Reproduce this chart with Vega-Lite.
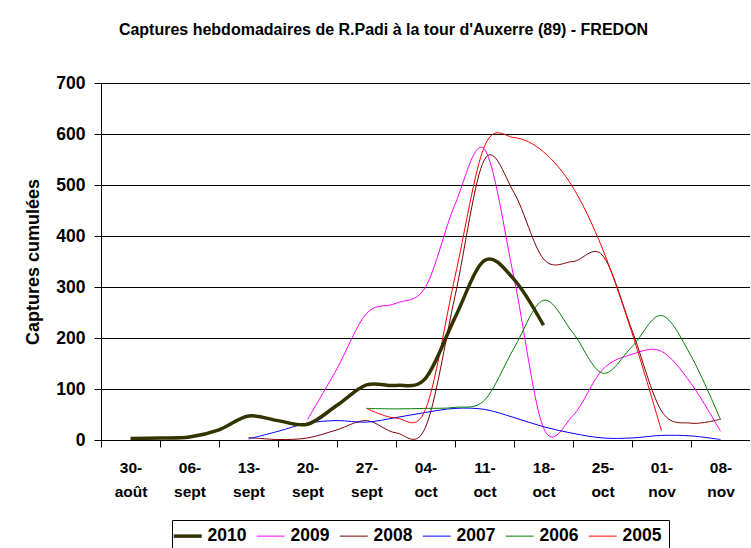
{
  "$schema": "https://vega.github.io/schema/vega-lite/v6.json",
  "autosize": {"type": "none"},
  "padding": {"left": 101, "top": 83, "right": 0, "bottom": 108},
  "width": 649,
  "height": 357,
  "background": "white",
  "title": {
    "text": "Captures hebdomadaires de R.Padi à la tour d'Auxerre (89) - FREDON",
    "font": "Liberation Sans", "fontSize": 16, "fontWeight": "bold", "color": "#000",
    "anchor": "middle", "dx": -42, "offset": 36
  },
  "config": {
    "view": {"stroke": null},
    "font": "Liberation Sans"
  },
  "data": {"values": [
    {"annee": "2010", "semaine": 0, "captures": 3},
    {"annee": "2010", "semaine": 0.5, "captures": 4},
    {"annee": "2010", "semaine": 1, "captures": 6},
    {"annee": "2010", "semaine": 1.5, "captures": 20},
    {"annee": "2010", "semaine": 2, "captures": 47},
    {"annee": "2010", "semaine": 2.5, "captures": 38},
    {"annee": "2010", "semaine": 3, "captures": 31},
    {"annee": "2010", "semaine": 3.5, "captures": 68},
    {"annee": "2010", "semaine": 4, "captures": 108},
    {"annee": "2010", "semaine": 4.5, "captures": 107},
    {"annee": "2010", "semaine": 5, "captures": 121},
    {"annee": "2010", "semaine": 5.5, "captures": 240},
    {"annee": "2010", "semaine": 6, "captures": 352},
    {"annee": "2010", "semaine": 6.5, "captures": 315},
    {"annee": "2010", "semaine": 7, "captures": 225},

    {"annee": "2009", "semaine": 3, "captures": 40},
    {"annee": "2009", "semaine": 3.5, "captures": 140},
    {"annee": "2009", "semaine": 4, "captures": 248},
    {"annee": "2009", "semaine": 4.5, "captures": 268},
    {"annee": "2009", "semaine": 5, "captures": 300},
    {"annee": "2009", "semaine": 5.5, "captures": 462},
    {"annee": "2009", "semaine": 6, "captures": 570},
    {"annee": "2009", "semaine": 6.5, "captures": 318},
    {"annee": "2009", "semaine": 7, "captures": 24},
    {"annee": "2009", "semaine": 7.5, "captures": 48},
    {"annee": "2009", "semaine": 8, "captures": 138},
    {"annee": "2009", "semaine": 8.5, "captures": 168},
    {"annee": "2009", "semaine": 9, "captures": 174},
    {"annee": "2009", "semaine": 9.5, "captures": 111},
    {"annee": "2009", "semaine": 10, "captures": 17},

    {"annee": "2008", "semaine": 2, "captures": 5},
    {"annee": "2008", "semaine": 2.5, "captures": 1},
    {"annee": "2008", "semaine": 3, "captures": 4},
    {"annee": "2008", "semaine": 3.5, "captures": 20},
    {"annee": "2008", "semaine": 4, "captures": 38},
    {"annee": "2008", "semaine": 4.5, "captures": 14},
    {"annee": "2008", "semaine": 5, "captures": 25},
    {"annee": "2008", "semaine": 5.5, "captures": 282},
    {"annee": "2008", "semaine": 6, "captures": 550},
    {"annee": "2008", "semaine": 6.5, "captures": 485},
    {"annee": "2008", "semaine": 7, "captures": 355},
    {"annee": "2008", "semaine": 7.5, "captures": 350},
    {"annee": "2008", "semaine": 8, "captures": 362},
    {"annee": "2008", "semaine": 8.5, "captures": 215},
    {"annee": "2008", "semaine": 9, "captures": 57},
    {"annee": "2008", "semaine": 9.5, "captures": 33},
    {"annee": "2008", "semaine": 10, "captures": 41},

    {"annee": "2007", "semaine": 2, "captures": 2},
    {"annee": "2007", "semaine": 2.5, "captures": 17},
    {"annee": "2007", "semaine": 3, "captures": 33},
    {"annee": "2007", "semaine": 3.5, "captures": 38},
    {"annee": "2007", "semaine": 4, "captures": 35},
    {"annee": "2007", "semaine": 4.5, "captures": 44},
    {"annee": "2007", "semaine": 5, "captures": 54},
    {"annee": "2007", "semaine": 5.5, "captures": 62},
    {"annee": "2007", "semaine": 6, "captures": 60},
    {"annee": "2007", "semaine": 6.5, "captures": 44},
    {"annee": "2007", "semaine": 7, "captures": 26},
    {"annee": "2007", "semaine": 7.5, "captures": 13},
    {"annee": "2007", "semaine": 8, "captures": 4},
    {"annee": "2007", "semaine": 8.5, "captures": 4},
    {"annee": "2007", "semaine": 9, "captures": 9},
    {"annee": "2007", "semaine": 9.5, "captures": 8},
    {"annee": "2007", "semaine": 10, "captures": 1},

    {"annee": "2006", "semaine": 4, "captures": 62},
    {"annee": "2006", "semaine": 4.5, "captures": 61},
    {"annee": "2006", "semaine": 5, "captures": 62},
    {"annee": "2006", "semaine": 5.5, "captures": 64},
    {"annee": "2006", "semaine": 6, "captures": 78},
    {"annee": "2006", "semaine": 6.5, "captures": 180},
    {"annee": "2006", "semaine": 7, "captures": 274},
    {"annee": "2006", "semaine": 7.5, "captures": 210},
    {"annee": "2006", "semaine": 8, "captures": 131},
    {"annee": "2006", "semaine": 8.5, "captures": 183},
    {"annee": "2006", "semaine": 9, "captures": 244},
    {"annee": "2006", "semaine": 9.5, "captures": 165},
    {"annee": "2006", "semaine": 10, "captures": 40},

    {"annee": "2005", "semaine": 4, "captures": 62},
    {"annee": "2005", "semaine": 4.5, "captures": 43},
    {"annee": "2005", "semaine": 5, "captures": 60},
    {"annee": "2005", "semaine": 5.5, "captures": 320},
    {"annee": "2005", "semaine": 6, "captures": 576},
    {"annee": "2005", "semaine": 6.5, "captures": 593},
    {"annee": "2005", "semaine": 7, "captures": 565},
    {"annee": "2005", "semaine": 7.5, "captures": 495},
    {"annee": "2005", "semaine": 8, "captures": 375},
    {"annee": "2005", "semaine": 8.5, "captures": 210},
    {"annee": "2005", "semaine": 9, "captures": 18}
  ]},
  "encoding": {
    "x": {
      "field": "semaine", "type": "quantitative",
      "scale": {"domain": [-0.5, 10.5], "nice": false, "zero": false},
      "axis": {
        "title": null,
        "values": [-0.5, 0, 0.5, 1, 1.5, 2, 2.5, 3, 3.5, 4, 4.5, 5, 5.5, 6, 6.5, 7, 7.5, 8, 8.5, 9, 9.5, 10, 10.5],
        "labelExpr": "datum.value % 1 == 0 ? [['30-','août'],['06-','sept'],['13-','sept'],['20-','sept'],['27-','sept'],['04-','oct'],['11-','oct'],['18-','oct'],['25-','oct'],['01-','nov'],['08-','nov']][datum.value] : ''",
        "tickOpacity": {"condition": {"test": "datum.value % 1 != 0", "value": 1}, "value": 0},
        "grid": false,
        "domainColor": "#000", "domainWidth": 1,
        "tickColor": "#000", "tickSize": 7, "tickWidth": 1,
        "labelFont": "Liberation Sans", "labelFontSize": 15.5, "labelFontWeight": "bold", "labelColor": "#000",
        "labelLineHeight": 24, "labelPadding": 13, "labelBaseline": "top",
        "labelFlush": false, "labelOverlap": false, "labelBound": false
      }
    },
    "y": {
      "field": "captures", "type": "quantitative",
      "scale": {"domain": [0, 700], "nice": false},
      "axis": {
        "title": "Captures cumulées",
        "titleFont": "Liberation Sans", "titleFontSize": 18, "titleFontWeight": "bold", "titleColor": "#000",
        "titlePadding": 13,
        "values": [0, 100, 200, 300, 400, 500, 600, 700],
        "grid": true, "gridColor": "#000", "gridWidth": 1,
        "domainColor": "#000", "tickColor": "#000", "tickSize": 7,
        "labelFont": "Liberation Sans", "labelFontSize": 17.5, "labelFontWeight": "bold", "labelColor": "#000",
        "labelPadding": 9
      }
    },
    "color": {
      "field": "annee", "type": "nominal",
      "scale": {"domain": ["2010", "2009", "2008", "2007", "2006", "2005"],
                "range": ["#333300", "#ff00ff", "#800000", "#0000ff", "#008000", "#ff0000"]},
      "legend": {
        "title": null, "orient": "none", "direction": "horizontal",
        "legendX": 71, "legendY": 437,
        "symbolType": "stroke", "symbolSize": 784, "symbolStrokeWidth": 1,
        "labelFont": "Liberation Sans", "labelFontSize": 17.5, "labelFontWeight": "bold", "labelColor": "#000",
        "labelOffset": 11, "columnPadding": 7,
        "strokeColor": "#000", "padding": 7, "fillColor": "white",
        "encode": {
          "symbols": {
            "update": {
              "strokeWidth": {"signal": "datum.value == '2010' ? 3.5 : 1"}
            }
          }
        }
      }
    }
  },
  "layer": [
    {
      "transform": [{"filter": "datum.annee != '2010'"}],
      "mark": {"type": "line", "interpolate": "cardinal", "tension": 0, "strokeWidth": 1, "clip": true}
    },
    {
      "transform": [{"filter": "datum.annee == '2010'"}],
      "mark": {"type": "line", "interpolate": "cardinal", "tension": 0, "strokeWidth": 3.5, "clip": true}
    }
  ]
}
